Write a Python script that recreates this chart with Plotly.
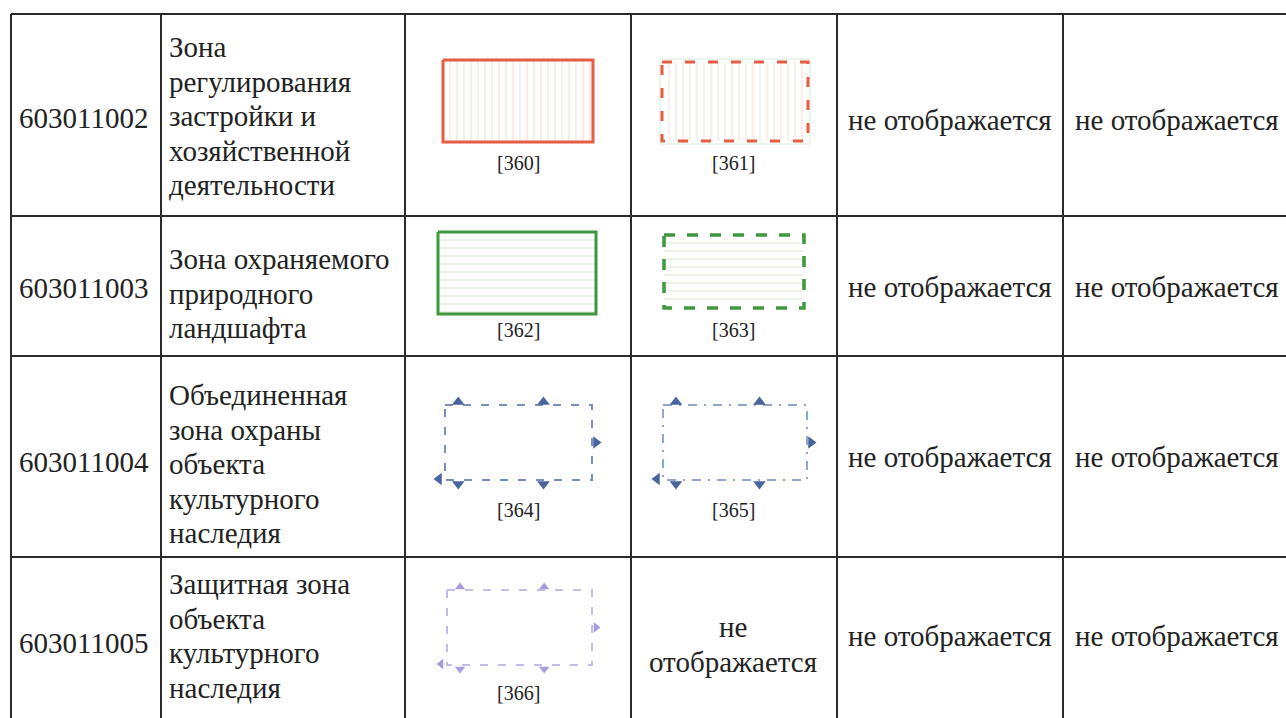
import plotly.graph_objects as go

# ---------------- data ----------------
codes = ["603011002", "603011003", "603011004", "603011005"]
names = [
    ["Зона", "регулирования", "застройки и", "хозяйственной", "деятельности"],
    ["Зона охраняемого", "природного", "ландшафта"],
    ["Объединенная", "зона охраны", "объекта", "культурного", "наследия"],
    ["Защитная зона", "объекта", "культурного", "наследия"],
]
sym1_ids = ["[360]", "[362]", "[364]", "[366]"]
sym2_ids = ["[361]", "[363]", "[365]", None]
sym2_missing = ["не", "отображается"]
col5 = ["не отображается"] * 4
col6 = ["не отображается"] * 4

# ---------------- layout config ----------------
W, H = 1286, 718
col_edges = [11, 161, 405, 631, 837, 1063]
row_edges = [14, 216, 356, 557]
grid_color = "#2b2b2b"
text_color = "#222222"
FONT = "Liberation Serif, Times New Roman, serif"
FS = 29
LS = 34.5

code_y = [118, 288, 462, 643]
name_y0 = [47, 259, 395, 584]
col5_y = [120, 287, 457, 636]

fig = go.Figure()

def seg_trace(xs, ys, color, width, dash="solid"):
    fig.add_trace(go.Scatter(x=xs, y=ys, mode="lines", hoverinfo="skip",
                             line=dict(color=color, width=width, dash=dash),
                             showlegend=False))

# grid
gx, gy = [], []
for y in row_edges:
    gx += [col_edges[0], W + 5, None]
    gy += [y, y, None]
for x in col_edges:
    gx += [x, x, None]
    gy += [row_edges[0], H + 5, None]
seg_trace(gx, gy, grid_color, 2)

def rect(x0, y0, x1, y1, color, width, dash="solid"):
    seg_trace([x0, x1, x1, x0, x0], [y0, y0, y1, y1, y0], color, width, dash)

def hatch(x0, y0, x1, y1, color, step, vertical=True):
    xs, ys = [], []
    if vertical:
        x = x0 + step
        while x < x1 - 1:
            xs += [x, x, None]; ys += [y0, y1, None]
            x += step
    else:
        y = y0 + step
        while y < y1 - 1:
            xs += [x0, x1, None]; ys += [y, y, None]
            y += step
    seg_trace(xs, ys, color, 1)

def triangles(x0, y0, x1, y1, color, size=11):
    w = x1 - x0
    tx = [x0 + 0.09 * w, x0 + 0.67 * w]
    pts = [
        (tx, [y0 - 3] * 2, "triangle-up"),
        ([x1 + 4], [(y0 + y1) / 2], "triangle-right"),
        (tx, [y1 + 4] * 2, "triangle-down"),
        ([x0 - 6], [y1 - 1], "triangle-left"),
    ]
    for xs, ys, sym in pts:
        fig.add_trace(go.Scatter(x=xs, y=ys, mode="markers", hoverinfo="skip",
                                 marker=dict(symbol=sym, size=size, color=color),
                                 showlegend=False))

# row 1 symbols
hatch(443, 60, 593, 142, "#f9dace", 7, True)
rect(443, 60, 593, 142, "#e65d44", 3)
rect(660, 59, 810, 144, "#d6ecd6", 1)
hatch(662, 62, 808, 141, "#f9ddd2", 7, True)
rect(662, 62, 808, 141, "#e65d44", 3, "10px,13px")

# row 2 symbols
hatch(438, 232, 596, 314, "#d3e8cc", 8, False)
rect(438, 232, 596, 314, "#3f983f", 3)
hatch(664, 235, 804, 308, "#d6eacf", 8, False)
rect(664, 235, 804, 308, "#3f983f", 3.5, "11px,12px")

# row 3 symbols
rect(445, 405, 592, 480, "#7a8fbd", 2, "8px,10px")
triangles(445, 405, 592, 480, "#4a64a0")
rect(663, 405, 807, 480, "#93a5cc", 2, "9px,7px,2px,7px")
triangles(663, 405, 807, 480, "#4a64a0")

# row 4 symbol
rect(447, 590, 592, 665, "#c4bce6", 2, "8px,10px")
triangles(447, 590, 592, 665, "#a99bdc", 9)

ann = []
def txt(x, y, s, anchor="left", size=FS):
    ann.append(dict(x=x, y=y, xref="x", yref="y", text=s, showarrow=False,
                    xanchor=anchor, yanchor="middle",
                    font=dict(family=FONT, size=size, color=text_color)))

cx = [(col_edges[i] + col_edges[i + 1]) / 2 for i in range(5)]
for i in range(4):
    txt(17, code_y[i], codes[i])
    for j, line in enumerate(names[i]):
        txt(167, name_y0[i] + j * LS, line)
    lab_y = [163, 330, 510, 693][i]
    txt(518, lab_y, sym1_ids[i], "center", 20)
    if sym2_ids[i]:
        txt(733, lab_y, sym2_ids[i], "center", 20)
    txt(cx[4], col5_y[i], col5[i], "center")
    txt(1073, col5_y[i], col6[i])

txt(733, 627, sym2_missing[0], "center")
txt(733, 662, sym2_missing[1], "center")

fig.update_layout(
    width=W, height=H, margin=dict(l=0, r=0, t=0, b=0),
    paper_bgcolor="white", plot_bgcolor="white",
    xaxis=dict(range=[0, W], visible=False, fixedrange=True),
    yaxis=dict(range=[H, 0], visible=False, fixedrange=True),
    annotations=ann, showlegend=False,
)
fig.write_html("out.html", config={"displayModeBar": False},
               post_script="document.body.style.margin='0px';document.body.style.overflow='hidden';")
